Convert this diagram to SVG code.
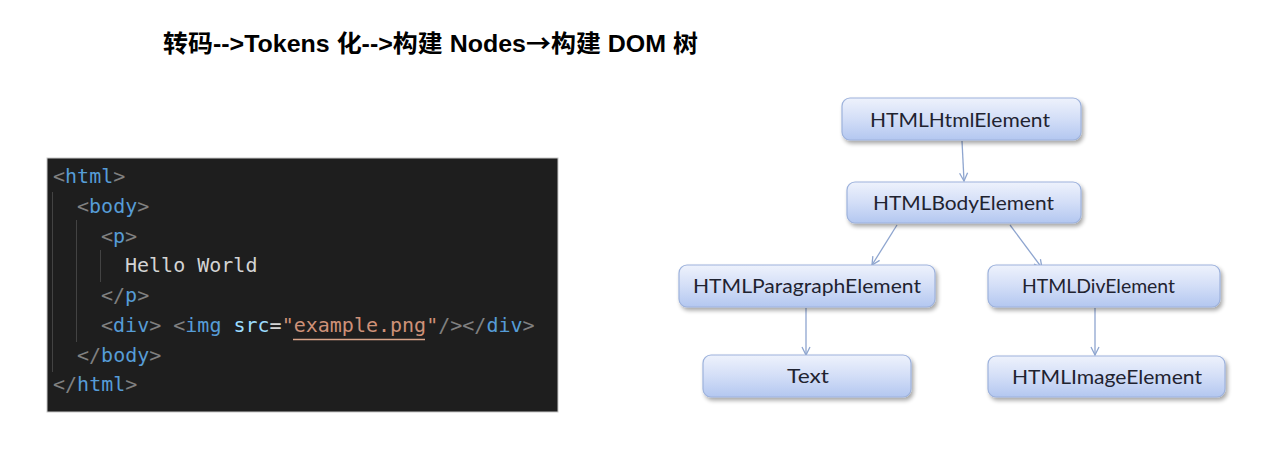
<svg xmlns="http://www.w3.org/2000/svg" width="1280" height="451" viewBox="0 0 1280 451">
<defs>
<linearGradient id="nodeGrad" x1="0" y1="0" x2="0" y2="1">
<stop offset="0" stop-color="#eef2fc"/>
<stop offset="0.5" stop-color="#d3def7"/>
<stop offset="1" stop-color="#b3c7f0"/>
</linearGradient>
<filter id="shadow" x="-10%" y="-20%" width="125%" height="160%">
<feGaussianBlur in="SourceAlpha" stdDeviation="2"/>
<feOffset dx="1.5" dy="2.5" result="b"/>
<feComponentTransfer><feFuncA type="linear" slope="0.35"/></feComponentTransfer>
<feMerge><feMergeNode/><feMergeNode in="SourceGraphic"/></feMerge>
</filter>
<marker id="arr" viewBox="0 0 10 10" refX="9" refY="5" markerWidth="10" markerHeight="10" markerUnits="userSpaceOnUse" orient="auto">
<path d="M1,1 L9,5 L1,9" fill="none" stroke="#8ea5cf" stroke-width="1.3"/>
</marker>
</defs>
<style>
.title{font-family:"Liberation Sans","Noto Sans CJK SC",sans-serif;font-weight:bold;font-size:24px;fill:#000}
.cjk{font-family:"Noto Sans CJK SC",sans-serif}
.code{font-family:"DejaVu Sans Mono","Liberation Mono",monospace;font-size:20px;fill:#d4d4d4}
.g{fill:#808080}.t{fill:#569cd6}.a{fill:#9cdcfe}.s{fill:#ce9178}.w{fill:#d4d4d4}
.guide{stroke:#434343;stroke-width:1}
.box{fill:url(#nodeGrad);stroke:#9db2dc;stroke-width:1.2;filter:url(#shadow)}
.lbl{font-family:Lato,"Open Sans",sans-serif;font-size:20px;fill:#1f2330;text-anchor:middle}
.edge{stroke:#8ea5cf;stroke-width:1.3;fill:none;marker-end:url(#arr)}
</style>
<rect width="1280" height="451" fill="#ffffff"/>
<text class="title" x="163" y="52" textLength="535" lengthAdjust="spacingAndGlyphs">转码--&gt;Tokens 化--&gt;构建 Nodes<tspan class="cjk">→</tspan>构建 DOM 树</text>

<g id="code-panel">
<rect x="47" y="158" width="511" height="254" fill="#1e1e1e" stroke="#c8c8c8" stroke-width="1"/>
<line class="guide" x1="52.5" y1="192" x2="52.5" y2="372"/>
<line class="guide" x1="76.5" y1="220" x2="76.5" y2="342"/>
<line class="guide" x1="100.5" y1="250" x2="100.5" y2="282"/>
<text class="code" xml:space="preserve" x="53" y="183"><tspan class="g">&lt;</tspan><tspan class="t">html</tspan><tspan class="g">&gt;</tspan></text>
<text class="code" xml:space="preserve" x="77" y="213"><tspan class="g">&lt;</tspan><tspan class="t">body</tspan><tspan class="g">&gt;</tspan></text>
<text class="code" xml:space="preserve" x="101" y="243"><tspan class="g">&lt;</tspan><tspan class="t">p</tspan><tspan class="g">&gt;</tspan></text>
<text class="code" xml:space="preserve" x="125" y="272"><tspan class="w">Hello World</tspan></text>
<text class="code" xml:space="preserve" x="101" y="302"><tspan class="g">&lt;/</tspan><tspan class="t">p</tspan><tspan class="g">&gt;</tspan></text>
<text class="code" xml:space="preserve" x="101" y="332"><tspan class="g">&lt;</tspan><tspan class="t">div</tspan><tspan class="g">&gt;</tspan><tspan class="w"> </tspan><tspan class="g">&lt;</tspan><tspan class="t">img</tspan><tspan class="w"> </tspan><tspan class="a">src</tspan><tspan class="w">=</tspan><tspan class="s">"example.png"</tspan><tspan class="g">/&gt;&lt;/</tspan><tspan class="t">div</tspan><tspan class="g">&gt;</tspan></text>
<line x1="293" y1="339.5" x2="425" y2="339.5" stroke="#d9a58a" stroke-width="1.3"/>
<text class="code" xml:space="preserve" x="77" y="362"><tspan class="g">&lt;/</tspan><tspan class="t">body</tspan><tspan class="g">&gt;</tspan></text>
<text class="code" xml:space="preserve" x="53" y="391"><tspan class="g">&lt;/</tspan><tspan class="t">html</tspan><tspan class="g">&gt;</tspan></text>
</g>

<g id="connectors">
<line class="edge" x1="962" y1="141" x2="964" y2="181"/>
<line class="edge" x1="897" y1="225" x2="872" y2="265"/>
<line class="edge" x1="1010" y1="225" x2="1042" y2="268"/>
<line class="edge" x1="806" y1="308" x2="806" y2="355"/>
<line class="edge" x1="1095" y1="308" x2="1095" y2="355"/>
</g>

<g id="node-html">
<rect class="box" x="842" y="98" width="239" height="42" rx="8"/>
<text class="lbl" x="960" y="127" textLength="180" lengthAdjust="spacingAndGlyphs">HTMLHtmlElement</text>
</g>
<g id="node-body">
<rect class="box" x="847" y="182" width="234" height="41" rx="8"/>
<text class="lbl" x="963.5" y="210" textLength="181" lengthAdjust="spacingAndGlyphs">HTMLBodyElement</text>
</g>
<g id="node-paragraph">
<rect class="box" x="679" y="265" width="256" height="42" rx="8"/>
<text class="lbl" x="807" y="293" textLength="228" lengthAdjust="spacingAndGlyphs">HTMLParagraphElement</text>
</g>
<g id="node-div">
<rect class="box" x="988" y="265" width="232" height="42" rx="8"/>
<text class="lbl" x="1098.5" y="293" textLength="153" lengthAdjust="spacingAndGlyphs">HTMLDivElement</text>
</g>
<g id="node-text">
<rect class="box" x="703" y="355" width="208" height="42" rx="8"/>
<text class="lbl" x="808" y="383" textLength="42" lengthAdjust="spacingAndGlyphs">Text</text>
</g>
<g id="node-image">
<rect class="box" x="988" y="356" width="237" height="41" rx="8"/>
<text class="lbl" x="1107" y="384" textLength="190" lengthAdjust="spacingAndGlyphs">HTMLImageElement</text>
</g>
</svg>
